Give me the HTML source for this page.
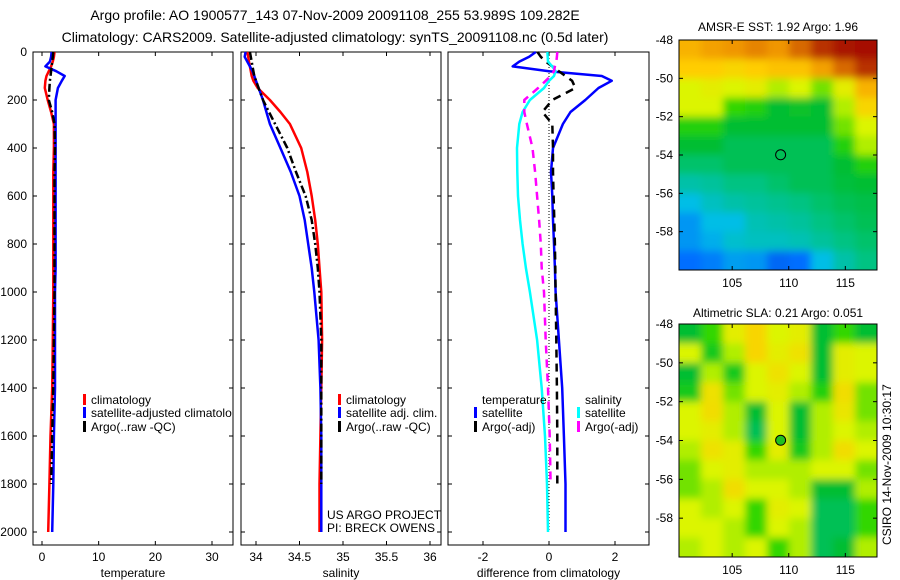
<!DOCTYPE html>
<html><head><meta charset="utf-8"><style>
html,body{margin:0;padding:0;background:#fff;}
svg{display:block;font-family:"Liberation Sans",sans-serif;}
</style></head><body>
<svg id="fig" width="900" height="580" viewBox="0 0 900 580">
<defs>
<filter id="blur" filterUnits="userSpaceOnUse" x="650" y="0" width="250" height="580"><feGaussianBlur stdDeviation="4"/></filter>
<clipPath id="clipMap1"><rect x="679" y="40" width="198" height="230"/></clipPath>
<clipPath id="clipMap2"><rect x="679" y="324" width="198" height="233"/></clipPath>
</defs>
<text x="335" y="20" font-size="14" text-anchor="middle">Argo profile: AO 1900577_143 07-Nov-2009 20091108_255 53.989S 109.282E</text>
<text x="335" y="42" font-size="14" text-anchor="middle">Climatology: CARS2009. Satellite-adjusted climatology: synTS_20091108.nc (0.5d later)</text>
<text x="778" y="31" font-size="12" text-anchor="middle">AMSR-E SST: 1.92 Argo: 1.96</text>
<text x="778" y="317" font-size="12" text-anchor="middle">Altimetric SLA: 0.21 Argo: 0.051</text>
<text transform="translate(891,545) rotate(-90)" font-size="12">CSIRO 14-Nov-2009 10:30:17</text>
<text x="327" y="519" font-size="12">US ARGO PROJECT</text>
<text x="327" y="532" font-size="12">PI: BRECK OWENS</text>
</svg>
<script>
// ---- profile data ----
const depths = [0,20,40,60,80,100,120,150,200,250,300,400,500,600,700,800,900,1000,1200,1400,1600,1800,2000];
const tempClim = [2.2,2.1,1.9,1.6,1.2,0.8,0.6,0.5,1.0,1.6,2.1,2.1,2.0,2.0,2.0,2.0,2.0,2.0,1.9,1.8,1.5,1.3,1.1];
const tempSat = [1.7,1.6,1.4,0.6,2.5,4.0,3.5,2.8,2.4,2.4,2.4,2.4,2.4,2.4,2.4,2.4,2.4,2.3,2.3,2.3,2.1,2.0,1.8];
const tempArgo = [2.0,1.9,1.8,1.7,1.6,1.5,1.4,1.3,1.2,1.8,2.2,2.3,2.2,2.2,2.2,2.2,2.2,2.2,2.1,2.0,1.8,1.6];
const salClim = [33.90,33.91,33.92,33.93,33.94,33.95,33.97,34.02,34.16,34.28,34.39,34.52,34.59,34.64,34.68,34.71,34.73,34.75,34.76,34.75,34.74,34.73,34.73];
const salSat = [33.88,33.87,33.90,33.93,33.96,33.98,34.00,34.03,34.08,34.12,34.16,34.28,34.40,34.50,34.56,34.60,34.64,34.67,34.72,34.74,34.75,34.75,34.75];
const salArgo = [33.93,33.94,33.95,33.96,33.97,33.98,34.00,34.03,34.08,34.15,34.22,34.36,34.46,34.57,34.64,34.68,34.71,34.73,34.75,34.75,34.75,34.75];
const dTempSat = [-0.4,-0.6,-0.9,-1.1,0.0,1.6,1.9,1.5,1.1,0.65,0.42,0.12,0.06,0.1,0.12,0.15,0.18,0.2,0.3,0.4,0.45,0.5,0.5];
const dTempArgo = [-0.35,-0.25,-0.1,0.1,0.3,0.5,0.7,0.8,0.1,-0.2,0.1,0.12,0.12,0.14,0.16,0.18,0.19,0.2,0.22,0.24,0.25,0.25];
const dSalSat = [-0.05,-0.04,-0.03,0.1,0.2,0.15,0.0,-0.15,-0.58,-0.8,-0.9,-0.97,-0.96,-0.94,-0.88,-0.8,-0.7,-0.58,-0.36,-0.22,-0.12,-0.06,-0.03];
const dSalArgo = [0.25,0.24,0.22,0.18,0.15,0.05,-0.1,-0.33,-0.75,-0.75,-0.67,-0.5,-0.42,-0.36,-0.3,-0.25,-0.22,-0.15,-0.1,-0.03,0.02,0.05];
const depthTicks = [0,200,400,600,800,1000,1200,1400,1600,1800,2000];
const tempTicks = [0,10,20,30];
const salTicks = [34,34.5,35,35.5,36];
const salTickLabels = ["34","34.5","35","35.5","36"];
const diffTicks = [-2,0,2];
const latTicks = [-48,-50,-52,-54,-56,-58];
const lonTicks = [105,110,115];
// ---- map data (rows: lat -48 -> -60, cols: lon 100.3 -> 117.8) ----
const sstGrid = [
[0.75,0.78,0.80,0.82,0.80,0.85,0.92,0.97,0.98],
[0.70,0.70,0.68,0.70,0.72,0.72,0.78,0.85,0.92],
[0.60,0.62,0.60,0.62,0.58,0.60,0.55,0.62,0.75],
[0.60,0.60,0.52,0.50,0.45,0.46,0.45,0.58,0.68],
[0.50,0.50,0.45,0.45,0.45,0.45,0.45,0.55,0.60],
[0.45,0.45,0.42,0.42,0.42,0.42,0.42,0.50,0.58],
[0.40,0.40,0.42,0.42,0.42,0.42,0.42,0.45,0.50],
[0.35,0.36,0.38,0.38,0.40,0.42,0.42,0.44,0.45],
[0.30,0.33,0.35,0.36,0.37,0.38,0.40,0.42,0.43],
[0.25,0.30,0.30,0.34,0.35,0.36,0.38,0.40,0.42],
[0.25,0.28,0.32,0.33,0.33,0.34,0.36,0.38,0.40],
[0.20,0.22,0.26,0.25,0.18,0.20,0.30,0.35,0.38]];
const slaGrid = [
[0.45,0.52,0.62,0.68,0.60,0.62,0.45,0.52,0.45],
[0.60,0.48,0.58,0.68,0.62,0.65,0.45,0.62,0.60],
[0.45,0.58,0.48,0.60,0.65,0.60,0.45,0.62,0.60],
[0.48,0.65,0.55,0.60,0.62,0.58,0.50,0.66,0.55],
[0.60,0.66,0.58,0.45,0.60,0.45,0.58,0.64,0.55],
[0.60,0.62,0.58,0.42,0.60,0.45,0.58,0.60,0.58],
[0.58,0.65,0.62,0.52,0.62,0.48,0.58,0.66,0.60],
[0.55,0.60,0.62,0.58,0.58,0.58,0.60,0.60,0.55],
[0.55,0.58,0.66,0.60,0.60,0.58,0.45,0.45,0.58],
[0.60,0.58,0.60,0.52,0.62,0.60,0.42,0.42,0.52],
[0.60,0.60,0.58,0.52,0.60,0.58,0.42,0.42,0.52],
[0.58,0.60,0.58,0.60,0.52,0.58,0.42,0.45,0.58]];
const argoLon = 109.282, argoLat = -53.989;

const NS = "http://www.w3.org/2000/svg";
const svg = document.getElementById('fig');
function mk(tag, attrs, parent) {
  const e = document.createElementNS(NS, tag);
  for (const k in attrs) e.setAttribute(k, attrs[k]);
  (parent || svg).appendChild(e);
  return e;
}
const Y0 = 52, Y1 = 545, YS = 0.24;
const yD = d => Y0 + d * YS;
function lin(v0, p0, v1, p1) { return v => p0 + (v - v0) * (p1 - p0) / (v1 - v0); }
const panels = [
  {name:'temperature', x0:33, x1:233, sx:lin(0,42,30,212), ticks:tempTicks, labels:tempTicks.map(String), xlabel:'temperature'},
  {name:'salinity', x0:241, x1:441, sx:lin(34,256,36,430), ticks:salTicks, labels:salTickLabels, xlabel:'salinity'},
  {name:'difference', x0:448, x1:649, sx:lin(-2,483,2,615), ticks:diffTicks, labels:diffTicks.map(String), xlabel:'difference from climatology'}
];
panels.forEach((p, i) => {
  const g = mk('g', {});
  
  
  const fr = mk('rect', {x:p.x0, y:Y0, width:p.x1-p.x0, height:Y1-Y0, fill:'none', stroke:'#000', 'stroke-width':1}, g);
  
  
  depthTicks.forEach(d => {
    mk('line', {x1:p.x0, x2:p.x0+4, y1:yD(d), y2:yD(d), stroke:'#000'}, g);
    mk('line', {x1:p.x1, x2:p.x1-4, y1:yD(d), y2:yD(d), stroke:'#000'}, g);
    if (i === 0) {
      const t = mk('text', {x:27, y:yD(d)+4, 'font-size':12, 'text-anchor':'end'}, g);
      t.textContent = d;
      
      
    }
  });
  p.ticks.forEach((v, k) => {
    const x = p.sx(v);
    mk('line', {x1:x, x2:x, y1:Y1, y2:Y1-4, stroke:'#000'}, g);
    mk('line', {x1:x, x2:x, y1:Y0, y2:Y0+4, stroke:'#000'}, g);
    const t = mk('text', {x:x, y:561, 'font-size':12, 'text-anchor':'middle'}, g);
    t.textContent = p.labels[k];
    
    
  });
  const xl = mk('text', {x:(p.x0+p.x1)/2, y:577, 'font-size':12, 'text-anchor':'middle'}, g);
  xl.textContent = p.xlabel;
  
  
  p.g = g;
});
function series(p, vals, color, dash, name, w) {
  const pts = vals.map((v, k) => p.sx(v).toFixed(1) + ',' + yD(depths[k]).toFixed(1)).join(' ');
  const a = {points:pts, fill:'none', stroke:color, 'stroke-width':w||2.5, 'stroke-linejoin':'round'};
  if (dash) a['stroke-dasharray'] = dash;
  const l = mk('polyline', a, p.g);
  
  
}
const zl = mk('line', {x1:panels[2].sx(0), x2:panels[2].sx(0), y1:Y0, y2:yD(2000), stroke:'#000', 'stroke-dasharray':'1,2'}, panels[2].g);


series(panels[0], tempClim, '#ff0000', null, 'temp-climatology-line');
series(panels[0], tempSat, '#0000ff', null, 'temp-satellite-line');
series(panels[0], tempArgo, '#000', '8,3,2,3', 'temp-argo-line');
series(panels[1], salClim, '#ff0000', null, 'sal-climatology-line');
series(panels[1], salSat, '#0000ff', null, 'sal-satellite-line');
series(panels[1], salArgo, '#000', '8,3,2,3', 'sal-argo-line');
series(panels[2], dTempSat, '#0000ff', null, 'dtemp-satellite-line');
series(panels[2], dTempArgo, '#000', '8,6', 'dtemp-argo-line');
series(panels[2], dSalSat, '#00ffff', null, 'dsal-satellite-line');
series(panels[2], dSalArgo, '#ff00ff', '8,6', 'dsal-argo-line');
function legend(x, y, color, text) {
  const g = mk('g', {});
  
  
  if (color) mk('rect', {x:x, y:y-10, width:3, height:11, fill:color}, g);
  const t = mk('text', {x:x+8, y:y, 'font-size':12}, g);
  t.textContent = text;
}
legend(83, 404, '#ff0000', 'climatology');
legend(83, 417, '#0000ff', 'satellite-adjusted climatolo');
legend(83, 431, '#000', 'Argo(..raw -QC)');
legend(338, 404, '#ff0000', 'climatology');
legend(338, 417, '#0000ff', 'satellite adj. clim.');
legend(338, 431, '#000', 'Argo(..raw -QC)');
legend(474, 404, null, 'temperature');
legend(474, 417, '#0000ff', 'satellite');
legend(474, 431, '#000', 'Argo(-adj)');
legend(577, 404, null, 'salinity');
legend(577, 417, '#00ffff', 'satellite');
legend(577, 431, '#ff00ff', 'Argo(-adj)');
const stops = [[0,[0,40,150]],[0.2,[0,110,255]],[0.3,[0,190,230]],[0.38,[0,195,130]],[0.45,[0,190,50]],[0.52,[50,215,0]],[0.6,[220,245,0]],[0.7,[255,205,0]],[0.8,[240,150,0]],[0.9,[190,60,0]],[1,[160,0,0]]];
function cmap(v) {
  for (let i = 1; i < stops.length; i++) {
    if (v <= stops[i][0]) {
      const a = stops[i-1], b = stops[i], t = (v - a[0]) / (b[0] - a[0]);
      const c = a[1].map((q, k) => Math.round(q + (b[1][k] - q) * t));
      return 'rgb(' + c.join(',') + ')';
    }
  }
  return 'rgb(160,0,0)';
}
const maps = [
  {name:'sst-map', grid:sstGrid, y0:40, y1:270, clip:'url(#clipMap1)', marker:'none'},
  {name:'sla-map', grid:slaGrid, y0:324, y1:557, clip:'url(#clipMap2)', marker:'#20c020'}
];
const MX0 = 679, MX1 = 877, LON0 = 100.3, LON1 = 117.8;
maps.forEach(m => {
  const lx = lin(LON0, MX0, LON1, MX1), ly = lin(-48, m.y0, -60, m.y1);
  const outer = mk('g', {});
  
  
  const cg = mk('g', {'clip-path':m.clip}, outer);
  const bg = mk('g', {filter:'url(#blur)'}, cg);
  const rows = m.grid.length, cols = m.grid[0].length;
  const cw = (LON1 - LON0) / cols, ch = 12 / rows;
  m.grid.forEach((row, r) => row.forEach((v, c) => {
    let x = lx(LON0 + c*cw), x2 = lx(LON0 + (c+1)*cw);
    let y = ly(-48 - r*ch), y2 = ly(-48 - (r+1)*ch);
    if (c === 0) x -= 12; if (c === cols-1) x2 += 12;
    if (r === 0) y -= 12; if (r === rows-1) y2 += 12;
    const cell = mk('rect', {x:x, y:y, width:x2-x+0.5, height:y2-y+0.5, fill:cmap(v)}, bg);
    
    
  }));
  mk('rect', {x:MX0, y:m.y0, width:MX1-MX0, height:m.y1-m.y0, fill:'none', stroke:'#000'}, outer);
  latTicks.forEach(v => {
    const y = ly(v);
    mk('line', {x1:MX0, x2:MX0+4, y1:y, y2:y, stroke:'#000'}, outer);
    mk('line', {x1:MX1, x2:MX1-4, y1:y, y2:y, stroke:'#000'}, outer);
    const t = mk('text', {x:673, y:y+4, 'font-size':12, 'text-anchor':'end'}, outer);
    t.textContent = '-' + Math.abs(v);
    
    
  });
  lonTicks.forEach(v => {
    const x = lx(v);
    mk('line', {x1:x, x2:x, y1:m.y1, y2:m.y1-4, stroke:'#000'}, outer);
    mk('line', {x1:x, x2:x, y1:m.y0, y2:m.y0+4, stroke:'#000'}, outer);
    const t = mk('text', {x:x, y:m.y1+17, 'font-size':12, 'text-anchor':'middle'}, outer);
    t.textContent = v;
    
    
  });
  const mkc = mk('circle', {cx:lx(argoLon), cy:ly(argoLat), r:5, fill:m.marker, stroke:'#000', 'stroke-width':1}, outer);
  
  
});
</script>
</body></html>
